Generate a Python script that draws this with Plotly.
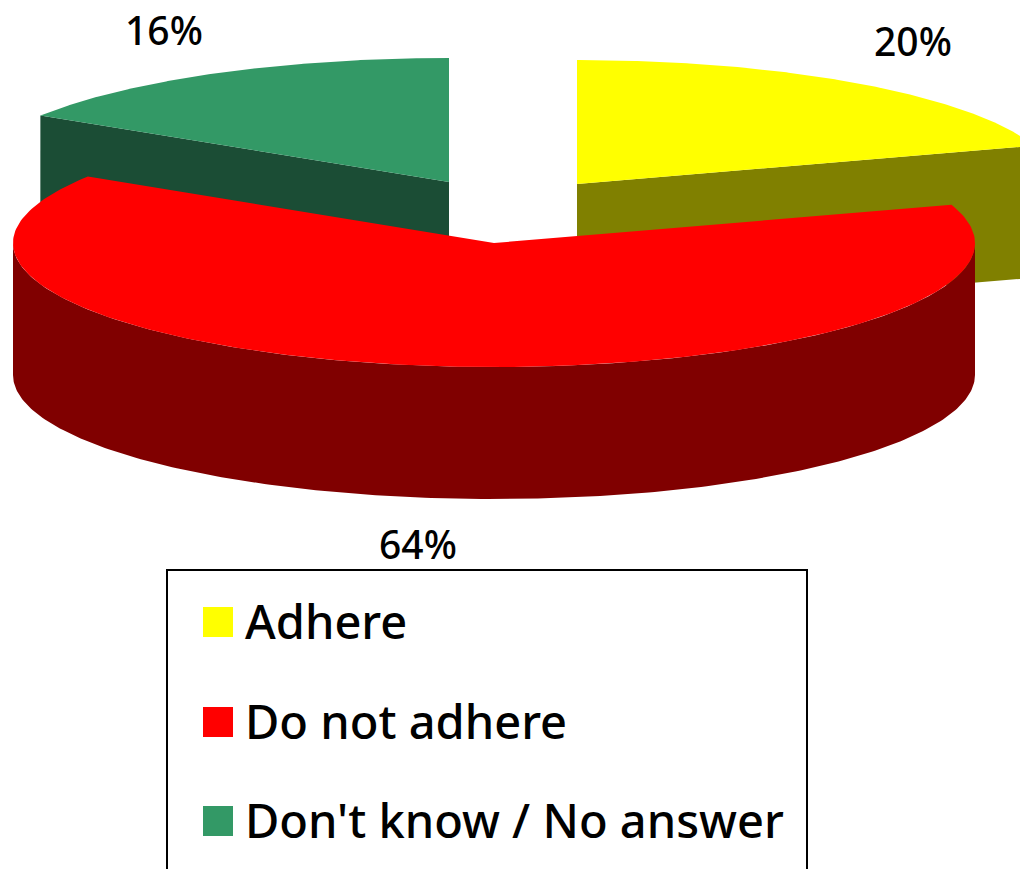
import numpy as np
import plotly.graph_objects as go

# Data
categories = ["Adhere", "Do not adhere", "Don't know / No answer"]
values = [20, 64, 16]
top_colors = ["#FFFF00", "#FF0000", "#339966"]
side_colors = ["#808000", "#800000", "#1B4D35"]

# Pie geometry (pixels)
RXS, RY, DEPTH = [481, 481, 484], 124, 132
centers = [(577, 184), (494, 243), (449, 182)]
label_pos = [(164, 35), (418, 549), (913, 46)]
label_pos = [label_pos[2], label_pos[1], label_pos[0]]
legend_y = [622, 722, 821]
legend_text_y = [627, 727, 826]
FONT = "Noto Sans"

# Slice angles follow the values, clockwise from 12 o'clock
fractions = np.array(values) / sum(values) * 2 * np.pi
ends = np.cumsum(fractions)
starts = ends - fractions


def arc(c, rx, a0, a1, dy=0):
    t = np.linspace(a0, a1, 241)
    return c[0] + rx * np.sin(t), c[1] - RY * np.cos(t) + dy


fig = go.Figure()


def poly(xs, ys, color):
    fig.add_trace(go.Scatter(x=list(xs), y=list(ys), mode="lines", fill="toself",
                             fillcolor=color, line=dict(width=0), hoverinfo="skip",
                             showlegend=False))


# back slices first, then the exploded front slice
for i in [2, 0, 1]:
    c, rx, a0, a1 = centers[i], RXS[i], starts[i], ends[i]
    # cut faces that look towards the viewer
    cut = {0: a1, 2: a0}.get(i)
    if cut is not None:
        px, py = arc(c, rx, cut, cut)
        poly([c[0], px[0], px[0], c[0]],
             [c[1], py[0], py[0] + DEPTH, c[1] + DEPTH], side_colors[i])
    # outer wall
    lo, hi = max(a0, np.pi / 2), min(a1, 3 * np.pi / 2)
    if hi > lo:
        tx, ty = arc(c, rx, lo, hi)
        bx, by = arc(c, rx, lo, hi, DEPTH)
        poly(np.r_[tx, bx[::-1]], np.r_[ty, by[::-1]], side_colors[i])
    # top face
    tx, ty = arc(c, rx, a0, a1)
    poly(np.r_[c[0], tx], np.r_[c[1], ty], top_colors[i])

# Percentage labels
fig.add_trace(go.Scatter(x=[p[0] for p in label_pos], y=[p[1] for p in label_pos],
                         mode="text", text=[f"{v}%" for v in values],
                         textposition="middle center",
                         textfont=dict(family=FONT, size=39, color="black", weight=500),
                         hoverinfo="skip", showlegend=False))

# Legend
fig.add_trace(go.Scatter(x=[218] * 3, y=legend_y, mode="markers",
                         marker=dict(symbol="square", size=30, color=top_colors, line=dict(width=0)),
                         hoverinfo="skip", showlegend=False))
fig.add_trace(go.Scatter(x=[245] * 3, y=legend_text_y, mode="text", text=categories,
                         textposition="middle right",
                         textfont=dict(family=FONT, size=47, color="black", weight=500),
                         hoverinfo="skip", showlegend=False))

fig.update_layout(
    width=1020, height=869, margin=dict(l=0, r=0, t=0, b=0),
    paper_bgcolor="white", plot_bgcolor="white", showlegend=False,
    xaxis=dict(range=[0, 1020], visible=False, fixedrange=True),
    yaxis=dict(range=[869, 0], visible=False, fixedrange=True),
    shapes=[dict(type="rect", x0=167, x1=807, y0=570, y1=900, xref="x", yref="y",
                 line=dict(color="black", width=2), layer="below")],
)
fig.write_html("out.html", config=dict(displayModeBar=False),
               post_script="document.body.style.margin='0';window.dispatchEvent(new Event('resize'));")
